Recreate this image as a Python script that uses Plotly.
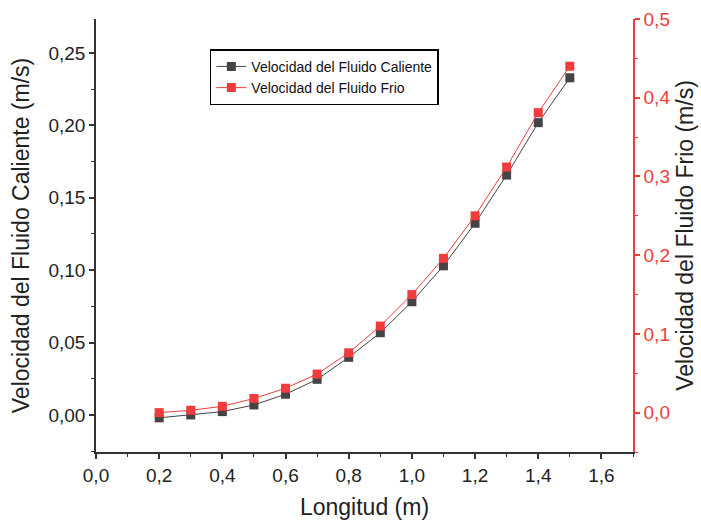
import plotly.graph_objects as go

# Data
longitud = [0.2, 0.3, 0.4, 0.5, 0.6, 0.7, 0.8, 0.9, 1.0, 1.1, 1.2, 1.3, 1.4, 1.5]
vel_caliente = [-0.002, 0.000, 0.0023, 0.0069, 0.0143, 0.0246, 0.0398, 0.0568,
                0.0782, 0.1030, 0.1324, 0.1657, 0.2019, 0.2329]
vel_frio = [0.000, 0.003, 0.008, 0.018, 0.031, 0.049, 0.076, 0.110,
            0.150, 0.196, 0.250, 0.312, 0.381, 0.440]

name_cal = "Velocidad del Fluido Caliente"
name_frio = "Velocidad del Fluido Frio"

FONT = "Liberation Sans, Arial, sans-serif"
RED = "#f03c3c"
DARK = "#444444"

fig = go.Figure()
fig.add_trace(go.Scatter(
    x=longitud, y=vel_caliente, name=name_cal, mode="lines+markers",
    line=dict(color=DARK, width=1),
    marker=dict(symbol="square", size=9, color=DARK),
    yaxis="y"))
fig.add_trace(go.Scatter(
    x=longitud, y=vel_frio, name=name_frio, mode="lines+markers",
    line=dict(color=RED, width=1),
    marker=dict(symbol="square", size=9, color=RED),
    yaxis="y2"))

fig.update_layout(
    width=701, height=522,
    margin=dict(l=96, r=68, t=19, b=70),
    paper_bgcolor="white", plot_bgcolor="white",
    separators=", ",
    font=dict(family=FONT, size=19, color="#222222"),
    showlegend=True,
    legend=dict(x=0.212, y=0.93, xanchor="left", yanchor="top",
                bgcolor="white", bordercolor="black", borderwidth=1.5,
                font=dict(size=14, color="#111111"),
                tracegroupgap=0, itemwidth=30),
    xaxis=dict(
        range=[0, 1.7], dtick=0.2, tick0=0, tickformat=".1f",
        showgrid=False, zeroline=False, automargin=False,
        showline=True, linecolor="#333333", linewidth=1.5,
        ticks="outside", ticklen=5, tickwidth=1.5, tickcolor="#333333",
        minor=dict(dtick=0.1, ticks="outside", ticklen=3, tickcolor="#333333", tickwidth=1),
        title=dict(text="Longitud (m)", font=dict(size=23), standoff=14),
        tickfont=dict(size=19),
    ),
    xaxis2=dict(
        overlaying="x", side="top", matches="x", automargin=False,
        range=[0, 1.7], dtick=0.2, tick0=0,
        showgrid=False, zeroline=False, showticklabels=False,
        showline=True, linecolor="#333333", linewidth=1.5,
        ticks="inside", ticklen=5, tickwidth=1.5, tickcolor="#333333",
        minor=dict(dtick=0.1, ticks="inside", ticklen=3, tickcolor="#333333", tickwidth=1),
    ),
    yaxis=dict(
        range=[-0.0256, 0.2735], dtick=0.05, tick0=0, tickformat=".2f",
        showgrid=False, zeroline=False, automargin=False,
        showline=True, linecolor="#333333", linewidth=1.5,
        ticks="outside", ticklen=5, tickwidth=1.5, tickcolor="#333333",
        minor=dict(dtick=0.025, ticks="outside", ticklen=3, tickcolor="#333333", tickwidth=1),
        title=dict(text="Velocidad del Fluido Caliente (m/s)", font=dict(size=23), standoff=12),
        tickfont=dict(size=19),
    ),
    yaxis2=dict(
        overlaying="y", side="right", automargin=False,
        range=[-0.05, 0.5], dtick=0.1, tick0=0, tickformat=".1f",
        showgrid=False, zeroline=False,
        showline=True, linecolor=RED, linewidth=1.5,
        ticks="outside", ticklen=5, tickwidth=1.5, tickcolor=RED,
        minor=dict(dtick=0.05, ticks="outside", ticklen=3, tickcolor=RED, tickwidth=1),
        tickfont=dict(size=19, color=RED),
        title=dict(text="Velocidad del Fluido Frio (m/s)", font=dict(size=23, color="#222222"), standoff=8),
    ),
)

fig.write_html("out.html")
